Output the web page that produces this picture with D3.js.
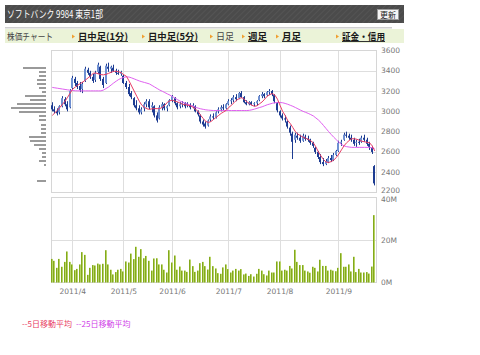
<!DOCTYPE html>
<html><head><meta charset="utf-8">
<script src="https://cdn.jsdelivr.net/npm/d3@7/dist/d3.min.js"></script>
<style>html,body{margin:0;padding:0;background:#fff;}svg{display:block;}</style>
</head><body>
<script>
// ---- trading days (2011) ----
const mar=[22,23,24,25,28,29,30,31];
const apr=[1,4,5,6,7,8,11,12,13,14,15,18,19,20,21,22,25,26,27,28];
const may=[2,6,9,10,11,12,13,16,17,18,19,20,23,24,25,26,27,30,31];
const jun=[1,2,3,6,7,8,9,10,13,14,15,16,17,20,21,22,23,24,27,28,29,30];
const jul=[1,4,5,6,7,8,11,12,13,14,15,19,20,21,22,25,26,27,28,29];
const aug=[1,2,3,4,5,8,9,10,11,12,15,16,17,18,19,22,23,24,25,26,29,30,31];
const sep=[1,2,5,6,7,8,9,12,13,14,15,16,20,21,22];
const monthLabels=["2011/4","2011/5","2011/6","2011/7","2011/8","2011/9"];

// ---- OHLC (yen) ----
const open=[3060,3020,3000,2990,3050,3120,3070,3040,
3230,3320,3280,3250,3220,3300,3410,3380,3340,3310,3390,3440,3320,3280,3440,3420,3430,3400,3380,3370,
3350,3280,3240,3180,3130,3060,3030,2990,3030,3070,3100,3040,3050,2960,2930,3040,3070,3030,3060,
3110,3130,3080,3050,3070,3080,3060,3060,3050,3050,3000,2960,2900,2880,2860,2920,2950,2940,3000,3020,3040,3030,
3070,3100,3110,3140,3130,3180,3140,3090,3070,3090,3070,3080,3110,3150,3170,3160,3190,3200,3160,3080,
3000,2960,2930,2900,2840,2780,2720,2760,2740,2710,2750,2730,2720,2690,2640,2600,2550,2500,2480,2500,2540,2520,2570,
2610,2690,2720,2770,2760,2740,2720,2690,2700,2700,2740,2720,2680,2640,2460];
const high=[3090,3050,3030,3060,3150,3140,3100,3220,
3350,3340,3300,3290,3290,3440,3430,3400,3370,3400,3480,3450,3340,3470,3480,3450,3460,3420,3410,3400,
3360,3300,3270,3200,3140,3110,3060,3040,3090,3120,3120,3090,3060,2990,3060,3090,3080,3060,3120,
3160,3140,3090,3090,3100,3090,3090,3080,3080,3060,3010,2970,2920,2900,2920,2970,2980,3000,3040,3060,3070,3080,
3120,3130,3160,3170,3190,3200,3150,3110,3100,3100,3090,3110,3160,3190,3180,3200,3220,3210,3170,3090,
3010,2980,2960,2910,2860,2800,2790,2790,2770,2780,2770,2760,2730,2700,2650,2610,2580,2540,2530,2560,2570,2590,2620,
2710,2720,2790,2800,2780,2770,2740,2720,2730,2760,2770,2740,2700,2660,2470];
const low=[3000,2980,2960,2970,3040,3050,3000,3030,
3220,3250,3220,3190,3180,3290,3360,3320,3280,3290,3370,3300,3230,3270,3390,3380,3390,3360,3360,3350,
3270,3220,3150,3120,3040,3010,2970,2970,3000,3040,3020,2990,2940,2890,2920,3010,3010,3000,3050,
3090,3060,3020,3030,3040,3030,3040,3020,3030,2990,2950,2880,2850,2830,2850,2900,2920,2930,2980,3000,3010,3020,
3060,3070,3090,3100,3120,3130,3080,3060,3060,3060,3050,3060,3100,3130,3130,3150,3160,3150,3080,2990,
2940,2910,2890,2830,2760,2530,2690,2720,2690,2700,2710,2700,2670,2640,2580,2530,2480,2460,2470,2490,2500,2510,2560,
2600,2660,2710,2740,2720,2700,2660,2650,2670,2690,2700,2660,2620,2580,2270];
const close=[3020,3000,2980,3050,3130,3070,3020,3200,
3330,3280,3240,3210,3270,3420,3380,3340,3300,3380,3460,3320,3260,3450,3420,3440,3400,3380,3370,3390,
3280,3240,3170,3140,3060,3030,2990,3020,3070,3100,3040,3060,2960,2910,3040,3070,3030,3050,3110,
3150,3080,3040,3070,3080,3050,3070,3040,3060,3000,2970,2900,2870,2850,2910,2950,2940,2990,3020,3040,3030,3070,
3100,3110,3140,3120,3180,3140,3090,3070,3090,3070,3080,3100,3150,3170,3150,3190,3200,3170,3100,3010,
2960,2930,2920,2850,2790,2700,2770,2740,2710,2760,2730,2720,2690,2660,2600,2550,2500,2480,2510,2540,2520,2570,2610,
2690,2700,2770,2760,2740,2720,2680,2700,2690,2740,2720,2680,2650,2600,2290];

// ---- moving averages as plotted (yen) ----
const ma5=[2960,2985,3010,3040,3070,3100,3140,3180,3220,3240,
3260,3275,3290,3310,3330,3350,3375,3378,3370,3362,
3360,3365,3375,3385,3395,3395,3390,3380,3360,3345,
3300,3250,3200,3150,3100,3060,3040,3025,3020,3025,
3027,3027,3027,3040,3060,3090,3105,3110,3100,3093,
3080,3070,3065,3060,3055,3040,3020,3000,2960,2930,
2900,2890,2900,2920,2940,2960,2980,2995,3010,3040,
3060,3085,3110,3125,3136,3120,3095,3077,3060,3050,
3055,3075,3093,3120,3150,3165,3176,3160,3120,3060,
3000,2960,2910,2880,2840,2800,2775,2760,2745,2735,
2725,2710,2690,2650,2600,2560,2525,2500,2496,2505,
2520,2545,2580,2620,2660,2690,2712,2730,2730,2725,
2715,2705,2700,2695,2690,2660,2610];
const ma25=[3236,3232,3228,3224,3220,3216,3212,3208,3205,3203,
3202,3202,3202,3202,3202,3202,3202,3202,3202,3202,
3210,3225,3240,3260,3280,3298,3315,3326,3335,3341,
3338,3330,3320,3310,3300,3292,3285,3278,3270,3255,
3240,3225,3210,3198,3185,3172,3160,3145,3130,3115,
3100,3090,3080,3070,3060,3050,3040,3032,3025,3020,
3015,3012,3010,3008,3008,3008,3008,3008,3008,3008,
3008,3008,3008,3008,3008,3008,3008,3010,3015,3022,
3030,3038,3045,3055,3065,3072,3080,3085,3088,3087,
3085,3078,3070,3060,3050,3038,3025,3012,3000,2990,
2980,2968,2955,2935,2915,2890,2860,2830,2800,2772,
2745,2720,2695,2675,2660,2652,2648,2645,2645,2645,
2645,2645,2645,2645,2645,2640,2630];

// ---- volume (million shares) ----
const volume=[11.1,10.2,6.9,11.1,7.4,9.7,14.6,9.7,8.5,5.8,6.4,8.5,14.3,13.0,3.6,6.9,8.2,8.0,8.9,8.5,
8.8,15.2,8.5,6.0,3.8,4.9,6.0,6.4,5.2,9.9,9.4,13.6,11.0,16.8,12.1,15.7,11.4,12.5,10.2,5.6,
11.3,11.4,8.5,8.5,6.0,4.7,15.2,9.4,12.7,6.0,7.5,5.6,5.6,5.0,10.8,7.7,5.0,5.6,9.1,9.7,
7.7,6.1,12.1,7.7,6.6,4.4,4.1,7.1,8.5,6.3,4.7,5.6,6.4,5.6,
6.3,3.8,4.2,3.1,3.9,2.8,4.1,6.4,5.6,3.9,3.3,5.6,4.7,4.7,9.9,9.9,5.6,6.0,5.6,7.8,
6.6,15.4,9.7,8.2,8.2,5.6,5.2,4.6,7.4,6.9,5.2,10.7,7.8,7.8,5.6,6.0,5.6,5.3,6.9,13.8,
7.4,7.4,8.5,5.2,12.1,4.9,6.4,4.7,4.7,4.9,4.2,7.5,31.7];

// ---- volume by price (price band centre, relative volume) ----
const vbpPrice=[3430,3390,3350,3310,3270,3230,3190,3150,3110,3070,3030,2990,2950,2910,2870,2830,2790,2750,2710,2670,2630,2590,2550,2510,2470,2310];
const vbpVol=[23,7,7,9,9,7,4,21,16,29,35,27,7,7,5,5,5,17,16,12,7,4,4,7,2,9];

const priceTicks=[3600,3400,3200,3000,2800,2600,2400,2200];
const volTicks=[40,20,0];

// ---- build ----
const dates=[];
[[3,mar],[4,apr],[5,may],[6,jun],[7,jul],[8,aug],[9,sep]].forEach(([m,ds])=>ds.forEach(d=>dates.push({m,d})));
const N=dates.length;
const idx=d3.range(N);

const W=480,H=355;
const svg=d3.select("body").append("svg").attr("width",W).attr("height",H);
const JP='"Noto Sans CJK JP","Noto Sans",sans-serif';
const AX='"DejaVu Sans",Verdana,sans-serif';

// header
const defs=svg.append("defs");
const pat=defs.append("pattern").attr("id","stripe").attr("width",4).attr("height",4)
  .attr("patternUnits","userSpaceOnUse").attr("patternTransform","rotate(45)");
pat.append("rect").attr("width",4).attr("height",4).attr("fill","#4b4b4b");
pat.append("rect").attr("width",1).attr("height",4).attr("fill","#545454");
svg.append("rect").attr("x",5).attr("y",5).attr("width",399).attr("height",18).attr("fill","url(#stripe)");
svg.append("text").attr("x",7).attr("y",18).attr("fill","#fff").attr("font-family",JP).attr("font-size",10)
  .attr("textLength",96).attr("lengthAdjust","spacingAndGlyphs")
  .text("ソフトバンク 9984 東京1部");
svg.append("rect").attr("x",377.5).attr("y",9.5).attr("width",21).attr("height",10).attr("fill","#f4f4f4").attr("stroke","#999");
svg.append("text").attr("x",388).attr("y",17.5).attr("text-anchor","middle").attr("fill","#222").attr("font-family",JP).attr("font-size",8).text("更新");

svg.append("rect").attr("x",5).attr("y",27).attr("width",387).attr("height",1.5).attr("fill","#cfcfcf");
svg.append("rect").attr("x",5).attr("y",29).attr("width",399).attr("height",14).attr("fill","#ebf3d8");

const menu=[
  {t:"株価チャート",x:7,w:46,link:false,mark:false},
  {t:"日中足(1分)",x:78,w:50,link:true,mark:true},
  {t:"日中足(5分)",x:148,w:50,link:true,mark:true},
  {t:"日足",x:216,w:18,link:false,mark:true},
  {t:"週足",x:248,w:19,link:true,mark:true},
  {t:"月足",x:282,w:19,link:true,mark:true},
  {t:"証金・信用",x:342,w:43,link:true,mark:true}
];
menu.forEach(m=>{
  if(m.mark){
    svg.append("path").attr("d",`M${m.x-6},34.5 L${m.x-3},36.5 L${m.x-6},38.5 Z`).attr("fill","#f0a030");
  }
  svg.append("text").attr("x",m.x).attr("y",40).attr("font-family",JP).attr("font-size",9.5)
    .attr("textLength",m.w).attr("lengthAdjust","spacingAndGlyphs")
    .attr("fill",m.link?"#1a1a1a":"#444").attr("font-weight",m.link?"bold":"normal").text(m.t);
  if(m.link){
    svg.append("rect").attr("x",m.x).attr("y",41).attr("width",m.w).attr("height",1).attr("fill","#333");
  }
});

// scales
const L=51,R=376;
const x=d3.scaleBand().domain(idx).range([L,R]);
const cx=i=>x(i)+x.bandwidth()/2;
const y=d3.scaleLinear().domain([2200,3600]).range([192.5,50.5]);
const yv=d3.scaleLinear().domain([0,40]).range([282.5,197.5]);
const monthStart=[4,5,6,7,8,9].map(m=>dates.findIndex(d=>d.m===m));

const grid="#dedede";
// price panel grid
const gp=svg.append("g");
priceTicks.slice(1,-1).forEach(p=>gp.append("line").attr("x1",L).attr("x2",R).attr("y1",Math.round(y(p))+0.5).attr("y2",Math.round(y(p))+0.5).attr("stroke",grid));
monthStart.forEach(i=>gp.append("line").attr("x1",Math.floor(cx(i))+0.5).attr("x2",Math.floor(cx(i))+0.5).attr("y1",50.5).attr("y2",192.5).attr("stroke",grid));
gp.append("rect").attr("x",L+0.5).attr("y",50.5).attr("width",R-L).attr("height",142).attr("fill","none").attr("stroke","#d6d6d6");

// volume panel grid
const gv=svg.append("g");
gv.append("line").attr("x1",L).attr("x2",R).attr("y1",Math.round(yv(20))+0.5).attr("y2",Math.round(yv(20))+0.5).attr("stroke",grid);
monthStart.forEach(i=>gv.append("line").attr("x1",Math.floor(cx(i))+0.5).attr("x2",Math.floor(cx(i))+0.5).attr("y1",197.5).attr("y2",282.5).attr("stroke",grid));
gv.append("rect").attr("x",L+0.5).attr("y",197.5).attr("width",R-L).attr("height",85).attr("fill","none").attr("stroke","#d6d6d6");

// volume by price
const hx=d3.scaleLinear().domain([0,35]).range([0,35]);
svg.append("g").selectAll("rect").data(vbpPrice).join("rect")
  .attr("x",(p,k)=>46-hx(vbpVol[k])).attr("y",p=>Math.round(y(p))-1)
  .attr("width",(p,k)=>hx(vbpVol[k])).attr("height",2).attr("fill","#9a9a9a");

// candles
const gc=svg.append("g");
idx.forEach(i=>{
  const c=Math.floor(cx(i));
  const up=close[i]>=open[i];
  gc.append("rect").attr("x",c).attr("width",1).attr("y",y(high[i])).attr("height",Math.max(1,y(low[i])-y(high[i]))).attr("fill","#1d3c92");
  const top=y(Math.max(open[i],close[i])), bot=y(Math.min(open[i],close[i]));
  gc.append("rect").attr("x",c-1).attr("width",2).attr("y",top).attr("height",Math.max(1,bot-top))
    .attr("fill",up?"#6f90d2":"#1d3c92");
});

// MAs
const line=d3.line().x((v,i)=>cx(i)).y(v=>y(v)).curve(d3.curveLinear);
svg.append("path").datum(ma25).attr("d",line).attr("fill","none").attr("stroke","#e060f0").attr("stroke-width",1);
svg.append("path").datum(ma5).attr("d",line).attr("fill","none").attr("stroke","#e83c64").attr("stroke-width",1);

// volume bars
const gb=svg.append("g");
idx.forEach(i=>{
  const c=Math.floor(cx(i));
  const t=yv(volume[i]);
  gb.append("rect").attr("x",c-1).attr("width",1).attr("y",t).attr("height",282.5-t).attr("fill","#83a91c");
  gb.append("rect").attr("x",c).attr("width",1).attr("y",t).attr("height",282.5-t).attr("fill","#b7d365");
});

// axis labels
const ga=svg.append("g").attr("font-family",AX).attr("font-size",7.5).attr("fill","#777");
priceTicks.forEach(p=>ga.append("text").attr("x",381).attr("y",p===2200?y(p)+0.5:y(p)+2.5).text(p));
volTicks.forEach(v=>ga.append("text").attr("x",381).attr("y",v===40?yv(v)+4:yv(v)+2.5).text(v+"M"));
monthStart.forEach((i,k)=>ga.append("text").attr("x",cx(i)).attr("y",294).attr("text-anchor","middle").text(monthLabels[k]));

// legend
svg.append("text").attr("x",22).attr("y",327).attr("font-family",JP).attr("font-size",8).attr("fill","#e83c64").text("--5日移動平均");
svg.append("text").attr("x",76).attr("y",327).attr("font-family",JP).attr("font-size",8).attr("fill","#d040e8").text("--25日移動平均");
</script>
</body></html>
